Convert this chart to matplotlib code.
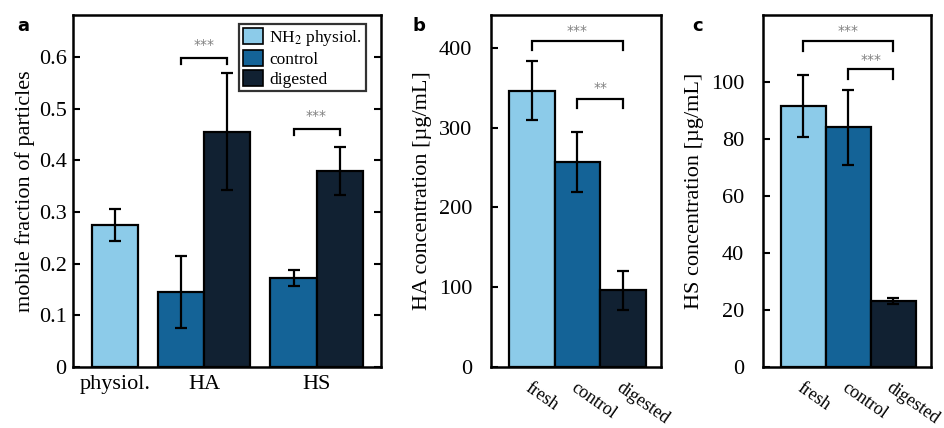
import numpy as np
import matplotlib
matplotlib.use("Agg")
import matplotlib.pyplot as plt
from matplotlib.patches import Patch

plt.rcParams['font.family'] = ['Liberation Serif', 'DejaVu Serif']
plt.rcParams['mathtext.fontset'] = 'stix'

LIGHT = "#8ccbe9"
MID = "#146397"
DARK = "#112132"

# panel a: mobile fraction
a_groups = ["physiol.", "HA", "HS"]
a_physiol = 0.275
a_physiol_err = 0.031
a_control = [0.145, 0.172]
a_control_err = [0.070, 0.016]
a_digested = [0.455, 0.379]
a_digested_err = [0.113, 0.047]

# panel b: HA concentration
b_labels = ["fresh", "control", "digested"]
b_values = [346, 257, 96]
b_errors = [37, 38, 24]

# panel c: HS concentration
c_labels = ["fresh", "control", "digested"]
c_values = [91.7, 84.1, 23.2]
c_errors = [10.8, 13.3, 1.2]

colors3 = [LIGHT, MID, DARK]
FS = 16

fig = plt.figure(figsize=(9.44, 4.28), dpi=100)
ax_a = fig.add_axes([0.0773, 0.1425, 0.3263, 0.8225])
ax_b = fig.add_axes([0.5201, 0.1425, 0.1801, 0.8225])
ax_c = fig.add_axes([0.8083, 0.1425, 0.1780, 0.8225])

bar_kw = dict(width=1.0, edgecolor="black", linewidth=1.6)
err_kw = dict(fmt="none", ecolor="black", elinewidth=1.6, capsize=4, capthick=1.6)


def bracket(ax, x1, x2, y, leg, text, dy):
    ax.plot([x1, x1, x2, x2], [y - leg, y, y, y - leg], color="black", lw=1.6,
            solid_joinstyle="miter")
    ax.text((x1 + x2) / 2, y + dy, text, ha="center", va="center",
            color="#808080", fontsize=10, family="DejaVu Sans")


# ---- panel a
centers = [0.0, 1.93, 4.37]
ax_a.bar(centers[0], a_physiol, color=LIGHT, **bar_kw)
ax_a.errorbar(centers[0], a_physiol, yerr=a_physiol_err, **err_kw)
xc = [c - 0.5 for c in centers[1:]]
xd = [c + 0.5 for c in centers[1:]]
ax_a.bar(xc, a_control, color=MID, **bar_kw)
ax_a.errorbar(xc, a_control, yerr=a_control_err, **err_kw)
ax_a.bar(xd, a_digested, color=DARK, **bar_kw)
ax_a.errorbar(xd, a_digested, yerr=a_digested_err, **err_kw)
ax_a.set_xlim(-0.92, 5.77)
ax_a.set_ylim(0, 0.681)
ax_a.set_yticks(np.arange(0, 0.61, 0.1))
ax_a.set_yticklabels(["0", "0.1", "0.2", "0.3", "0.4", "0.5", "0.6"])
ax_a.set_xticks(centers)
ax_a.set_xticklabels(a_groups)
ax_a.set_ylabel("mobile fraction of particles", fontsize=FS, labelpad=3)
ax_a.tick_params(axis="y", direction="in", right=True, length=5, width=1.5,
                 labelsize=FS, pad=4.5)
ax_a.tick_params(axis="x", length=0, labelsize=FS, pad=6)
bracket(ax_a, xc[0], xd[0], 0.598, 0.012, "***", 0.024)
bracket(ax_a, xc[1], xd[1], 0.461, 0.013, "***", 0.024)
handles = [Patch(facecolor=LIGHT, edgecolor="black", lw=1.2),
           Patch(facecolor=MID, edgecolor="black", lw=1.2),
           Patch(facecolor=DARK, edgecolor="black", lw=1.2)]
leg = ax_a.legend(handles, [r"NH$_2$ physiol.", "control", "digested"],
                  loc="upper right", bbox_to_anchor=(0.962, 0.985), fontsize=12.5,
                  frameon=True, fancybox=False, edgecolor="black",
                  handlelength=1.15, handleheight=1.05, handletextpad=0.35,
                  labelspacing=0.12, borderpad=0.22, borderaxespad=0.2)
leg.get_frame().set_linewidth(1.6)

# ---- panels b and c
for ax, labels, vals, errs, ylim, ticks, ylabel in [
        (ax_b, b_labels, b_values, b_errors, 441, [0, 100, 200, 300, 400],
         "HA concentration [µg/mL]"),
        (ax_c, c_labels, c_values, c_errors, 123.6, [0, 20, 40, 60, 80, 100],
         "HS concentration [µg/mL]")]:
    x = np.arange(len(vals))
    ax.bar(x, vals, color=colors3, **bar_kw)
    ax.errorbar(x, vals, yerr=errs, **err_kw)
    ax.set_xlim(-0.9, 2.84)
    ax.set_ylim(0, ylim)
    ax.set_yticks(ticks)
    ax.set_xticks(x)
    ax.set_xticklabels(labels, rotation=-35, ha="left", va="top",
                       rotation_mode="anchor", fontsize=13)
    ax.set_ylabel(ylabel, fontsize=FS, labelpad=5)
    ax.tick_params(axis="y", direction="in", length=5, width=1.5,
                   labelsize=FS, pad=13.5)
    ax.tick_params(axis="x", length=0, pad=9)

bracket(ax_b, 0, 2, 408, 10.5, "***", 13)
bracket(ax_b, 1, 2, 336, 11, "**", 13)
bracket(ax_c, 0, 2, 114.3, 3.2, "***", 3.6)
bracket(ax_c, 1, 2, 104.7, 3.5, "***", 3.2)

for ax in (ax_a, ax_b, ax_c):
    for s in ax.spines.values():
        s.set_linewidth(1.8)

for lbl, xpos in [("a", 0.018), ("b", 0.437), ("c", 0.733)]:
    fig.text(xpos, 0.94, lbl, fontsize=13, fontweight="bold",
             family="DejaVu Sans", ha="left", va="center")

fig.savefig("out.png", dpi=100)
